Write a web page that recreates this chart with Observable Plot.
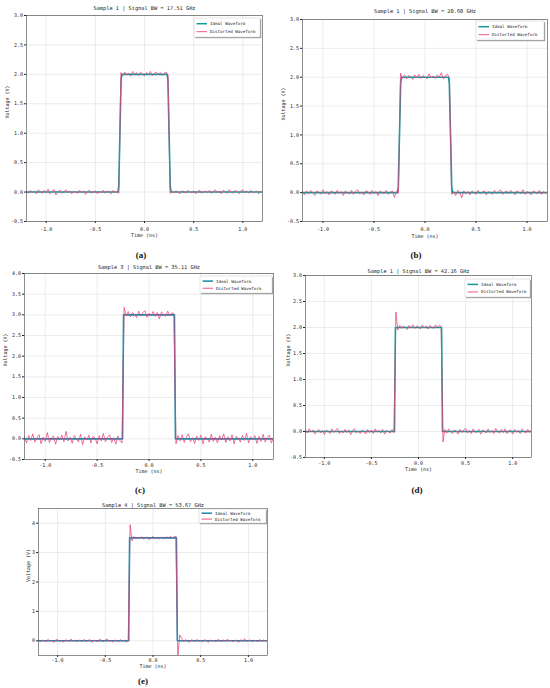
<!DOCTYPE html>
<html>
<head>
<meta charset="utf-8">
<script src="https://cdn.jsdelivr.net/npm/d3@7"></script>
<script src="https://cdn.jsdelivr.net/npm/@observablehq/plot@0.6"></script>
<style>
  html, body { margin: 0; padding: 0; background: #fff; }
  #page { position: relative; width: 550px; height: 688px; overflow: hidden; background: #fff; }
  .panel { position: absolute; }
  .cap { position: absolute; font-family: "Liberation Serif", "DejaVu Serif", serif; font-weight: bold; font-size: 9px; transform: translate(-50%, -50%); color: #111; }
</style>
</head>
<body>
<div id="page"></div>
<script>
// ---------- data ----------
const xTicks = [-1.0, -0.5, 0.0, 0.5, 1.0];
const sampleStart = -1.2, sampleStep = 0.02;
const titles = [
  "Sample 1 | Signal BW = 17.51 GHz",
  "Sample 1 | Signal BW = 20.60 GHz",
  "Sample 3 | Signal BW = 35.11 GHz",
  "Sample 1 | Signal BW = 42.16 GHz",
  "Sample 4 | Signal BW = 53.67 GHz"
];
const captions = ["(a)", "(b)", "(c)", "(d)", "(e)"];
const legendLabels = ["Ideal Waveform", "Distorted Waveform"];

const yTicksA = [-0.5, 0.0, 0.5, 1.0, 1.5, 2.0, 2.5, 3.0];
const yTicksC = [-0.5, 0.0, 0.5, 1.0, 1.5, 2.0, 2.5, 3.0, 3.5, 4.0];
const yTicksE = [0, 1, 2, 3, 4];

// ideal waveforms (breakpoints)
const idealSoftT = [-1.2, -0.27, -0.262, -0.25, -0.238, -0.23, 0.23, 0.238, 0.25, 0.262, 0.27, 1.2];
const idealA_V   = [0, 0, 0.1, 1.0, 1.9, 2.0, 2.0, 1.9, 1.0, 0.1, 0, 0];
const idealB_V   = [0, 0, 0.1, 1.0, 1.9, 2.0, 2.0, 1.9, 1.0, 0.1, 0, 0];
const idealSharpT = [-1.2, -0.255, -0.245, 0.245, 0.255, 1.2];
const idealC_V = [0, 0, 3.0, 3.0, 0, 0];
const idealD_V = [0, 0, 2.0, 2.0, 0, 0];
const idealE_V = [0, 0, 3.5, 3.5, 0, 0];

// distorted waveforms (sampled every 0.02 ns from -1.2 ns)
const distortedA = [
  0.01,-0.02,0.03,-0.01,0.02,-0.03,0.04,0.00,-0.02,0.03,
  -0.01,0.05,-0.03,0.02,0.04,-0.05,0.01,0.03,-0.02,0.00,
  0.04,-0.01,0.02,-0.03,0.01,0.00,-0.02,0.03,-0.01,0.02,
  -0.04,0.01,0.03,-0.02,0.00,0.02,-0.03,0.01,-0.01,0.03,
  -0.02,0.02,0.00,-0.03,0.03,-0.01,0.01,-0.02,
  2.03,1.98,2.04,1.99,2.02,1.97,2.05,2.00,2.03,1.98,
  2.04,2.01,1.97,2.03,2.00,2.05,1.98,2.02,2.04,1.99,
  2.03,1.98,2.02,2.04,1.99,
  -0.02,0.01,-0.01,0.02,0.00,-0.03,0.02,0.01,-0.02,0.03,
  0.00,-0.01,0.02,-0.03,0.01,0.03,-0.02,0.00,0.02,-0.01,
  0.03,-0.02,0.01,0.04,-0.01,0.02,-0.03,0.03,0.01,-0.02,
  0.04,0.00,-0.02,0.03,0.01,-0.03,0.02,0.04,-0.01,0.02,
  -0.02,0.03,0.00,-0.01,0.02,-0.03,0.01,-0.01
];
const distortedB = [
  0.02,-0.04,0.03,-0.02,0.04,0.00,-0.05,0.03,0.01,-0.03,
  0.05,-0.02,0.02,-0.04,0.03,0.01,-0.03,0.04,-0.01,0.02,
  -0.05,0.03,0.00,-0.02,0.04,-0.03,0.02,0.05,-0.02,0.01,
  -0.04,0.03,0.02,-0.03,0.04,-0.01,0.02,-0.05,0.03,0.00,
  -0.02,0.04,-0.03,0.01,0.03,-0.08,0.02,-0.01,
  2.07,1.98,2.04,1.97,2.03,2.01,1.96,2.04,1.99,2.05,
  1.98,2.03,2.00,1.97,2.06,1.99,2.02,1.98,2.04,2.00,
  2.08,1.97,2.03,2.05,1.99,
  -0.03,0.02,-0.05,0.04,0.01,-0.09,0.03,-0.02,0.02,-0.04,
  0.03,0.00,-0.03,0.04,-0.02,0.01,0.03,-0.04,0.02,0.00,
  -0.03,0.04,-0.01,0.02,0.05,-0.03,0.01,0.03,-0.02,0.04,
  0.00,-0.04,0.03,0.01,-0.02,0.05,-0.03,0.02,0.00,-0.04,
  0.03,0.01,-0.02,0.04,-0.03,0.02,-0.01,0.02
];
const distortedC = [
  0.05,-0.10,0.08,-0.04,0.12,-0.08,0.02,0.10,-0.12,0.04,
  -0.06,0.15,-0.09,0.03,0.07,-0.13,0.06,-0.02,0.09,-0.07,
  0.18,-0.05,0.04,-0.11,0.08,0.00,-0.08,0.11,-0.14,0.05,
  -0.03,0.09,-0.10,0.06,0.02,-0.12,0.08,-0.05,0.13,-0.07,
  0.04,0.10,-0.09,0.03,-0.13,0.07,-0.04,-0.10,
  3.18,2.98,3.08,2.95,3.06,3.01,2.93,3.09,2.97,3.05,
  3.10,2.94,3.04,2.99,3.08,2.96,3.06,2.90,3.07,3.02,
  2.96,3.09,2.98,3.05,3.03,
  -0.12,0.08,-0.05,0.10,-0.09,0.04,0.12,-0.07,0.03,-0.11,
  0.07,-0.04,0.09,-0.12,0.05,0.01,-0.08,0.11,-0.06,0.04,
  -0.10,0.08,-0.03,0.12,-0.09,0.05,-0.05,0.10,-0.12,0.06,
  0.02,-0.08,0.09,-0.04,0.13,-0.10,0.05,-0.02,0.08,-0.11,
  0.06,-0.06,0.11,-0.08,0.03,0.09,-0.10,0.04
];
const distortedD = [
  0.02,-0.03,0.05,-0.01,0.03,-0.05,0.01,0.04,-0.03,0.02,
  -0.06,0.03,0.00,-0.04,0.05,-0.02,0.02,0.06,-0.04,0.01,
  -0.03,0.04,-0.02,0.03,-0.06,0.02,0.05,-0.03,0.01,-0.04,
  0.03,0.00,-0.05,0.04,-0.02,0.03,-0.04,0.05,-0.01,0.02,
  -0.03,0.04,-0.05,0.02,0.00,-0.03,0.04,-0.02,
  2.30,1.95,2.04,1.98,2.03,2.00,1.96,2.04,1.99,2.05,
  1.98,2.03,2.01,1.97,2.05,1.99,2.03,1.97,2.04,2.01,
  1.98,2.05,2.00,2.04,2.02,
  -0.20,0.04,-0.03,0.05,0.00,-0.04,0.03,0.01,-0.05,0.04,
  -0.02,0.03,0.06,-0.03,0.02,-0.04,0.05,0.00,-0.02,0.04,
  -0.05,0.03,0.01,-0.03,0.05,-0.02,0.02,-0.04,0.06,0.00,
  -0.03,0.04,-0.02,0.05,-0.04,0.02,0.03,-0.05,0.04,-0.01,
  0.02,-0.04,0.05,0.00,-0.03,0.04,-0.02,0.03
];
const distortedE = [
  0.02,-0.04,0.03,0.00,-0.03,0.05,-0.02,0.01,-0.06,0.03,
  0.04,-0.02,0.00,-0.05,0.03,0.02,-0.03,0.06,-0.01,0.02,
  -0.04,0.03,0.00,-0.02,0.05,-0.03,0.01,0.04,-0.05,0.02,
  0.00,-0.03,0.05,0.02,-0.04,0.03,0.06,-0.02,0.01,-0.05,
  0.03,0.00,-0.03,0.04,-0.02,0.02,-0.04,0.01,
  3.95,3.40,3.55,3.47,3.52,3.49,3.54,3.46,3.51,3.53,
  3.44,3.50,3.55,3.48,3.52,3.46,3.53,3.50,3.47,3.54,
  3.49,3.55,3.51,3.53,3.56,
  -0.55,0.20,0.08,-0.03,0.04,0.00,-0.05,0.03,0.02,-0.04,
  0.05,-0.02,0.01,-0.03,0.04,0.00,-0.06,0.03,-0.01,0.02,
  -0.04,0.05,0.00,-0.03,0.03,-0.02,0.06,-0.01,0.02,-0.04,
  0.03,0.00,-0.05,0.04,-0.02,0.07,-0.03,0.01,0.03,-0.04,
  0.02,0.00,-0.03,0.05,-0.02,0.03,-0.01,0.02
];

// ---------- helpers ----------
const pink = "#e8437b";
const tealA = "#179797";
const tealB = "#1a86a6";
const font = "'DejaVu Sans Mono', 'Liberation Mono', monospace";
const fmt1 = d => d.toFixed(1);
const fmt0 = d => d.toFixed(0);

const sampled = vals => vals.map((v, i) => ({t: +(sampleStart + i * sampleStep).toFixed(3), v}));
const paired = (ts, vs) => ts.map((t, i) => ({t, v: vs[i]}));

const panels = [
  {left: 0, top: 0, w: 275, h: 240, m: [15, 13, 19, 26], yd: [-0.5, 3.0], yt: yTicksA, yf: fmt1,
   ideal: paired(idealSoftT, idealA_V), dist: sampled(distortedA), teal: tealA,
   titleDy: 9, tickPad: 3.5, xlabDy: 15, ylabDx: 19, leg: {w: 66, h: 19, ix: 2, iy: 3}},
  {left: 275, top: 0, w: 275, h: 240, m: [19, 3, 19, 27], yd: [-0.5, 3.0], yt: yTicksA, yf: fmt1,
   ideal: paired(idealSoftT, idealB_V), dist: sampled(distortedB), teal: tealA,
   titleDy: 10, tickPad: 3.5, xlabDy: 16, ylabDx: 19, leg: {w: 68, h: 19, ix: 3, iy: 2}},
  {left: 0, top: 258, w: 275, h: 222, m: [15, 2, 21, 24], yd: [-0.5, 4.0], yt: yTicksC, yf: fmt1,
   ideal: paired(idealSharpT, idealC_V), dist: sampled(distortedC), teal: tealB,
   titleDy: 8, tickPad: 1.5, xlabDy: 13, ylabDx: 19, leg: {w: 72, h: 17, ix: 1, iy: 3}},
  {left: 275, top: 258, w: 275, h: 222, m: [17, 19, 23, 30], yd: [-0.5, 3.0], yt: yTicksA, yf: fmt1,
   ideal: paired(idealSharpT, idealD_V), dist: sampled(distortedD), teal: tealA,
   titleDy: 6, tickPad: 1.5, xlabDy: 13, ylabDx: 17, leg: {w: 65, h: 18, ix: 1, iy: 4}},
  {left: 0, top: 495, w: 290, h: 180, m: [13, 23, 20, 38], yd: [-0.5, 4.5], yt: yTicksE, yf: fmt0,
   ideal: paired(idealSharpT, idealE_V), dist: sampled(distortedE), teal: tealB,
   titleDy: 5, tickPad: 1, xlabDy: 12.5, ylabDx: 10, leg: {w: 67, h: 14, ix: 1, iy: 1}}
];
const capPos = [[141, 255], [416, 255], [140, 490], [417, 490], [143, 681]];

const page = document.getElementById("page");

panels.forEach((p, k) => {
  const [mt, mr, mb, ml] = p.m;
  const svg = Plot.plot({
    width: p.w, height: p.h,
    marginTop: mt, marginRight: mr, marginBottom: mb, marginLeft: ml,
    style: {fontFamily: font, fontSize: "5px", background: "white", color: "#222", overflow: "visible"},
    x: {domain: [-1.2, 1.2]},
    y: {domain: p.yd},
    marks: [
      Plot.gridX(xTicks, {stroke: "#d8d8d8", strokeOpacity: 1, strokeWidth: 0.5}),
      Plot.gridY(p.yt, {stroke: "#d8d8d8", strokeOpacity: 1, strokeWidth: 0.5}),
      Plot.axisX(xTicks, {tickFormat: fmt1, tickSize: 2, tickPadding: p.tickPad, fontSize: 5, label: null}),
      Plot.axisY(p.yt, {tickFormat: p.yf, tickSize: 2, tickPadding: 1.5, fontSize: 5, label: null}),
      Plot.line(p.ideal, {x: "t", y: "v", stroke: p.teal, strokeWidth: 1.6, clip: true}),
      Plot.line(p.dist, {x: "t", y: "v", stroke: pink, strokeWidth: 0.85, strokeOpacity: 0.9, clip: true}),
      Plot.frame({stroke: "#444", strokeWidth: 0.6}),
      Plot.text([titles[k]], {text: d => d, frameAnchor: "top", dy: -p.titleDy, fontSize: 5.3, fill: "#222"}),
      Plot.text(["Time (ns)"], {text: d => d, frameAnchor: "bottom", dy: p.xlabDy, fontSize: 5, fill: "#222"}),
      Plot.text(["Voltage (V)"], {text: d => d, frameAnchor: "left", dx: -p.ylabDx, rotate: -90, fontSize: 5, fill: "#222"})
    ]
  });
  // legend
  const right = p.w - mr, lx = right - p.leg.ix - p.leg.w, ly = mt + p.leg.iy;
  const g = d3.select(svg).append("g").attr("font-family", font).attr("font-size", 4.2).attr("text-anchor", "start");
  g.append("rect").attr("x", lx + 1.2).attr("y", ly + 1.2).attr("width", p.leg.w).attr("height", p.leg.h).attr("fill", "#999");
  g.append("rect").attr("x", lx).attr("y", ly).attr("width", p.leg.w).attr("height", p.leg.h)
    .attr("fill", "white").attr("stroke", "#ccc").attr("stroke-width", 0.5);
  const rows = [[legendLabels[0], p.teal, 1.5], [legendLabels[1], pink, 0.9]];
  rows.forEach(([lab, col, sw], i) => {
    const yy = ly + p.leg.h * (i === 0 ? 0.3 : 0.72);
    g.append("line").attr("x1", lx + 2.5).attr("x2", lx + 13).attr("y1", yy).attr("y2", yy)
      .attr("stroke", col).attr("stroke-width", sw);
    g.append("text").attr("x", lx + 16).attr("y", yy).attr("dy", "0.35em").attr("text-anchor", "start")
      .attr("fill", "#222").text(lab);
  });
  const wrap = document.createElement("div");
  wrap.className = "panel";
  wrap.style.left = p.left + "px";
  wrap.style.top = p.top + "px";
  wrap.appendChild(svg);
  page.appendChild(wrap);
});

captions.forEach((c, i) => {
  const d = document.createElement("div");
  d.className = "cap";
  d.style.left = capPos[i][0] + "px";
  d.style.top = capPos[i][1] + "px";
  d.textContent = c;
  page.appendChild(d);
});
</script>
</body>
</html>
